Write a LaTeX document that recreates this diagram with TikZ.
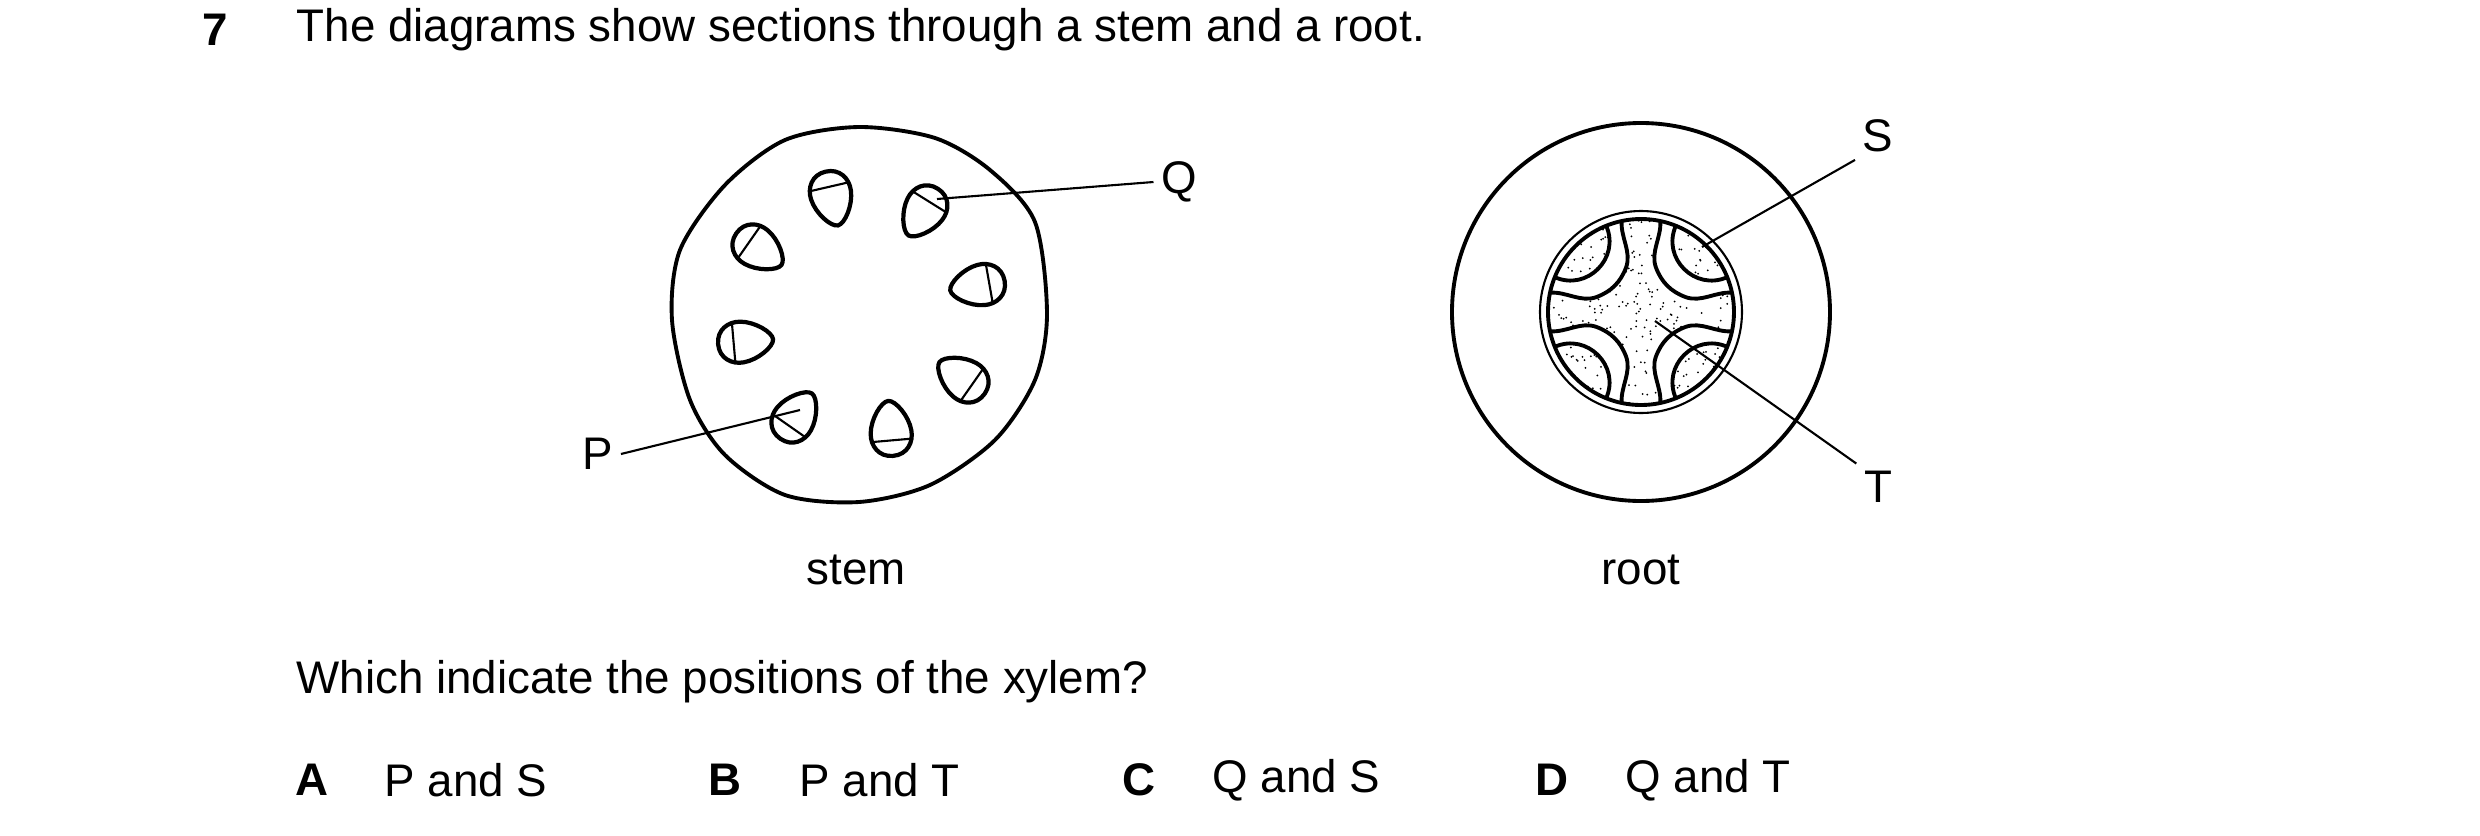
\documentclass[tikz,border=0pt]{standalone}
\usepackage{fontspec}
\setmainfont{Liberation Sans}
\usetikzlibrary{positioning}

\tikzset{
  bundle/.pic={
    \begin{scope}
      \clip (20,0) .. controls (20,12) and (10,18) .. (0,17) .. controls (-12,16) and (-26,6) .. (-26,0)
        .. controls (-26,-6) and (-12,-16) .. (0,-17) .. controls (10,-18) and (20,-12) .. (20,0);
      \draw[line width=0.6pt] (7,-30) -- (7,30);
    \end{scope}
    \draw[line width=1.2pt] (20,0) .. controls (20,12) and (10,18) .. (0,17) .. controls (-12,16) and (-26,6) .. (-26,0)
        .. controls (-26,-6) and (-12,-16) .. (0,-17) .. controls (10,-18) and (20,-12) .. (20,0);
  }
}

\begin{document}
\begin{tikzpicture}[x=0.01cm, y=-0.01cm,
    txt/.style={font=\fontsize{13}{15}\selectfont, inner sep=0pt},
    lbl/.style={font=\fontsize{13}{15}\selectfont, inner sep=2pt},
    thick line/.style={line width=1.1pt},
    thin line/.style={line width=0.6pt}]
  \useasboundingbox (0,0) rectangle (2480,836);

  % question
  \node[txt, font=\fontsize{13}{15}\selectfont\bfseries] (num) at (215,30) {7};
  \node[txt, anchor=west] (intro) at (296,30) {The diagrams show sections through a stem and a root.};

  % stem
  \coordinate (sc) at (859,314);
  \draw[thick line] plot[smooth cycle] coordinates {
    (1047,314) (1035,222) (990,170) (935,138) (859,127) (785,140) (725,185)
    (680,250) (672,320) (690,400) (725,455) (785,495) (859,502) (930,485) (995,440) (1035,380)};
  \pic[rotate=103, scale=1.2] at (831,195) {bundle};
  \pic[rotate=58, scale=1.2] at (925,209) {bundle};
  \pic[rotate=10, scale=1.2] at (981,285) {bundle};
  \pic[rotate=-35, scale=1.2] at (965,380) {bundle};
  \pic[rotate=-85, scale=1.2] at (891,432) {bundle};
  \pic[rotate=-125, scale=1.2] at (794,419) {bundle};
  \pic[rotate=-175, scale=1.2] at (742,342) {bundle};
  \pic[rotate=145, scale=1.2] at (756,247) {bundle};

  \node[lbl] (Q) at (1179,182) {Q};
  \coordinate (q) at (937,199);
  \draw[thin line] (Q.west) -- (q);
  \node[lbl] (P) at (598,454) {P};
  \coordinate (p) at (800,410);
  \draw[thin line] (P.east) -- (p);
  \node[txt] (stem) at (856,570) {stem};

  % root
  \coordinate (rc) at (1641,312);
  \draw[thick line] (rc) circle (189);
  \begin{scope}[shift={(rc)}]
    \def\R{93}
    \begin{scope}
      \clip (0,0) circle (\R);
      \pgfmathsetseed{7}
      \foreach \i in {1,...,360}{
        \fill ({rand*\R},{rand*\R}) circle (1.0);
      }
    \end{scope}
    \foreach \a in {0,90,180,270}{
      \begin{scope}[rotate=\a]
        \fill[white] (12:\R) .. controls (0.8*\R,0.22*\R) and (0.65*\R,0.1*\R) .. (0.48*\R,0.16*\R)
          .. controls (0.32*\R,0.22*\R) and (0.22*\R,0.32*\R) .. (0.16*\R,0.48*\R)
          .. controls (0.1*\R,0.65*\R) and (0.22*\R,0.8*\R) .. (78:\R)
          arc[start angle=78, end angle=68, radius=\R]
          .. controls (0.22*\R,0.58*\R) and (0.58*\R,0.22*\R) .. (22:\R)
          arc[start angle=22, end angle=12, radius=\R] -- cycle;
        \draw[thick line] (12:\R) .. controls (0.8*\R,0.22*\R) and (0.65*\R,0.1*\R) .. (0.48*\R,0.16*\R)
          .. controls (0.32*\R,0.22*\R) and (0.22*\R,0.32*\R) .. (0.16*\R,0.48*\R)
          .. controls (0.1*\R,0.65*\R) and (0.22*\R,0.8*\R) .. (78:\R);
        \draw[thick line] (68:\R) .. controls (0.22*\R,0.58*\R) and (0.58*\R,0.22*\R) .. (22:\R);
      \end{scope}
    }
    \draw[thick line] (0,0) circle (\R);
    \draw[thin line] (0,0) circle (101);
  \end{scope}

  \node[lbl] (S) at (1878,136) {S};
  \coordinate (s) at (1702,247);
  \draw[thin line] (S.south west) -- (s);
  \node[lbl] (T) at (1878,487) {T};
  \coordinate (t) at (1655,321);
  \draw[thin line] (T.north west) -- (t);
  \node[txt] (root) at (1641,570) {root};

  % options
  \node[txt, anchor=west] (ask) at (296,682) {Which indicate the positions of the xylem?};
  \node[txt, font=\fontsize{13}{15}\selectfont\bfseries] (A) at (312,780) {A};
  \node[txt, anchor=west] (optA) at (384,780) {P and S};
  \node[txt, font=\fontsize{13}{15}\selectfont\bfseries] (B) at (725,780) {B};
  \node[txt, anchor=west] (optB) at (799,780) {P and T};
  \node[txt, font=\fontsize{13}{15}\selectfont\bfseries] (C) at (1139,780) {C};
  \node[txt, anchor=west] (optC) at (1212,780) {Q and S};
  \node[txt, font=\fontsize{13}{15}\selectfont\bfseries] (D) at (1552,780) {D};
  \node[txt, anchor=west] (optD) at (1625,780) {Q and T};
\end{tikzpicture}
\end{document}
